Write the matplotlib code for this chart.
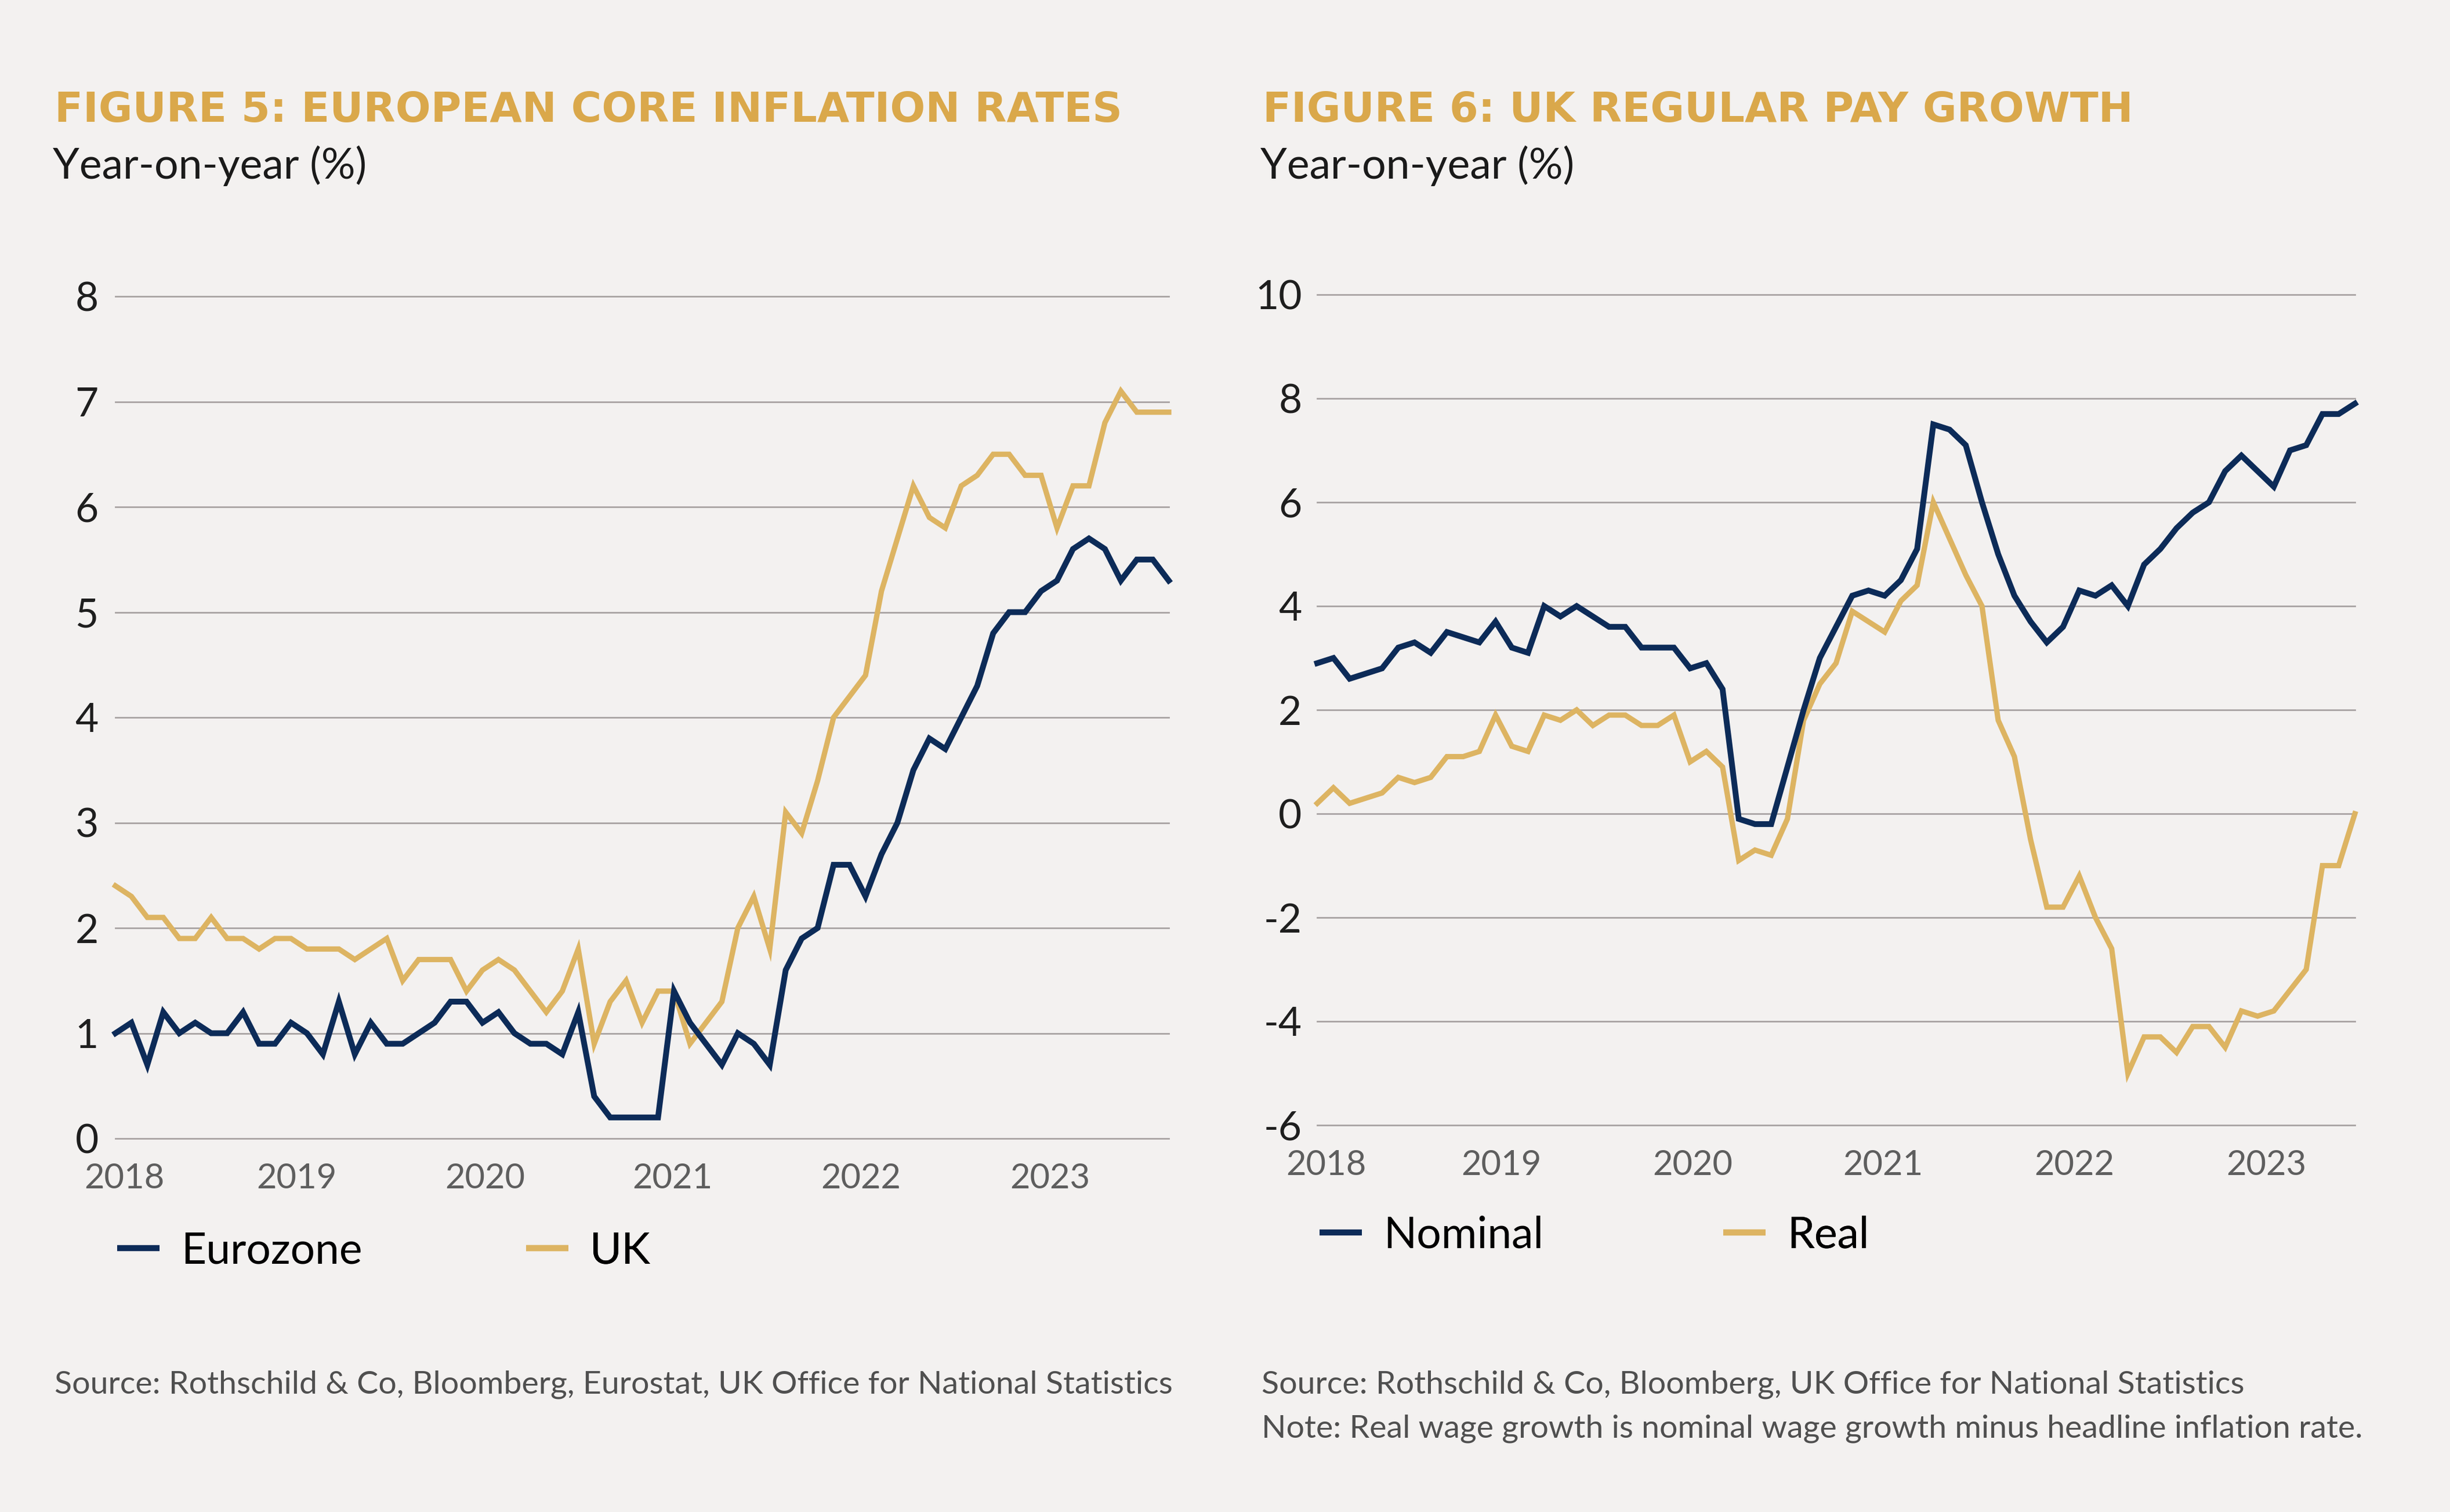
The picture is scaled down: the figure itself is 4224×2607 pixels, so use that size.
import numpy as np
import matplotlib.pyplot as plt
from matplotlib.lines import Line2D

# Figure 5: core inflation, monthly from Feb 2018 to Aug 2023 (% y/y)
eurozone = [1.0, 1.1, 0.7, 1.2, 1.0, 1.1, 1.0, 1.0, 1.2, 0.9, 0.9, 1.1,
            1.0, 0.8, 1.3, 0.8, 1.1, 0.9, 0.9, 1.0, 1.1, 1.3, 1.3, 1.1,
            1.2, 1.0, 0.9, 0.9, 0.8, 1.2, 0.4, 0.2, 0.2, 0.2, 0.2,
            1.4, 1.1, 0.9, 0.7, 1.0, 0.9, 0.7, 1.6, 1.9, 2.0, 2.6, 2.6,
            2.3, 2.7, 3.0, 3.5, 3.8, 3.7, 4.0, 4.3, 4.8, 5.0, 5.0, 5.2,
            5.3, 5.6, 5.7, 5.6, 5.3, 5.5, 5.5, 5.3]
uk_core = [2.4, 2.3, 2.1, 2.1, 1.9, 1.9, 2.1, 1.9, 1.9, 1.8, 1.9, 1.9,
           1.8, 1.8, 1.8, 1.7, 1.8, 1.9, 1.5, 1.7, 1.7, 1.7, 1.4, 1.6,
           1.7, 1.6, 1.4, 1.2, 1.4, 1.8, 0.9, 1.3, 1.5, 1.1, 1.4,
           1.4, 0.9, 1.1, 1.3, 2.0, 2.3, 1.8, 3.1, 2.9, 3.4, 4.0, 4.2,
           4.4, 5.2, 5.7, 6.2, 5.9, 5.8, 6.2, 6.3, 6.5, 6.5, 6.3, 6.3,
           5.8, 6.2, 6.2, 6.8, 7.1, 6.9, 6.9, 6.9]

# Figure 6: UK regular pay growth, monthly from Feb 2018 to Jun 2023 (% y/y)
nominal = [2.9, 3.0, 2.6, 2.7, 2.8, 3.2, 3.3, 3.1, 3.5, 3.4, 3.3, 3.7,
           3.2, 3.1, 4.0, 3.8, 4.0, 3.8, 3.6, 3.6, 3.2, 3.2, 3.2, 2.8,
           2.9, 2.4, -0.1, -0.2, -0.2, 0.9, 2.0, 3.0, 3.6, 4.2, 4.3,
           4.2, 4.5, 5.1, 7.5, 7.4, 7.1, 6.0, 5.0, 4.2, 3.7, 3.3, 3.6,
           4.3, 4.2, 4.4, 4.0, 4.8, 5.1, 5.5, 5.8, 6.0, 6.6, 6.9, 6.6,
           6.3, 7.0, 7.1, 7.7, 7.7, 7.9]
real = [0.2, 0.5, 0.2, 0.3, 0.4, 0.7, 0.6, 0.7, 1.1, 1.1, 1.2, 1.9,
        1.3, 1.2, 1.9, 1.8, 2.0, 1.7, 1.9, 1.9, 1.7, 1.7, 1.9, 1.0,
        1.2, 0.9, -0.9, -0.7, -0.8, -0.1, 1.8, 2.5, 2.9, 3.9, 3.7,
        3.5, 4.1, 4.4, 6.0, 5.3, 4.6, 4.0, 1.8, 1.1, -0.5, -1.8, -1.8,
        -1.2, -2.0, -2.6, -5.0, -4.3, -4.3, -4.6, -4.1, -4.1, -4.5, -3.8, -3.9,
        -3.8, -3.4, -3.0, -1.0, -1.0, 0.0]

year_labels = ['2018', '2019', '2020', '2021', '2022', '2023']
# where the year labels sit, in months from the first point
year_pos = [0.55, 11.35, 23.15, 34.9, 46.7, 58.55]

W, H, DPI = 4224, 2607, 100
bg = '#F3F1F0'
navy = '#0C2B58'
gold = '#DDB462'
title_gold = '#DAA84B'
grid_c = '#A8A3A3'

plt.rcParams['font.family'] = ['Lato', 'DejaVu Sans']
plt.rcParams['axes.unicode_minus'] = False

fig = plt.figure(figsize=(W / DPI, H / DPI), dpi=DPI, facecolor=bg)


def fx(px):
    return px / W


def fy(py):
    return 1 - py / H


def fit(t, width):
    # scale a text so it spans the given width in pixels
    w = t.get_window_extent(renderer=fig.canvas.get_renderer()).width
    t.set_fontsize(t.get_fontsize() * width / w)
    return t.get_fontsize()


def style(ax, ylim, yticks, ypad, n):
    ax.set_facecolor(bg)
    for s in ax.spines.values():
        s.set_visible(False)
    ax.set_xlim(0, n - 1)
    ax.set_ylim(*ylim)
    ax.set_yticks(yticks)
    ax.set_xticks(year_pos)
    ax.set_xticklabels(year_labels)
    ax.yaxis.grid(True, color=grid_c, lw=2)
    ax.set_axisbelow(True)
    for g in ax.get_ygridlines():
        g.set_clip_on(False)
    ax.tick_params(axis='y', length=0, pad=ypad, labelsize=50, labelcolor='#1E1E1E')
    ax.tick_params(axis='x', length=0, pad=30, labelsize=43, labelcolor='#5E5E5E')


def key(ax, color, label, x_px, y_px):
    h = Line2D([], [], color=color, lw=7.5, solid_capstyle='butt')
    leg = ax.legend([h], [label], loc='center left',
                    bbox_to_anchor=(fx(x_px), fy(y_px)), bbox_transform=fig.transFigure,
                    frameon=False, borderpad=0, borderaxespad=0,
                    handlelength=0.97, handletextpad=0.5, fontsize=54)
    ax.add_artist(leg)


# left panel
ax1 = fig.add_axes([fx(199), fy(1963), (2015 - 199) / W, (1963 - 511) / H])
style(ax1, (0, 8), range(0, 9), 21, len(eurozone))
x1 = np.arange(len(eurozone))
ax1.plot(x1, uk_core, color=gold, lw=6.6, solid_joinstyle='miter', clip_on=False)
ax1.plot(x1, eurozone, color=navy, lw=7.2, solid_joinstyle='miter', clip_on=False)
key(ax1, navy, 'Eurozone', 202, 2157)
key(ax1, gold, 'UK', 907, 2157)

# right panel
ax2 = fig.add_axes([fx(2271), fy(1940), (4060 - 2271) / W, (1940 - 508) / H])
style(ax2, (-6, 10), range(-6, 11, 2), 19, len(nominal))
x2 = np.arange(len(nominal))
ax2.plot(x2, real, color=gold, lw=6.6, solid_joinstyle='miter', clip_on=False)
ax2.plot(x2, nominal, color=navy, lw=7.2, solid_joinstyle='miter', clip_on=False)
key(ax2, navy, 'Nominal', 2275, 2130)
key(ax2, gold, 'Real', 2971, 2130)

# titles
t1 = fig.text(fx(94), fy(210), 'FIGURE 5: EUROPEAN CORE INFLATION RATES', color=title_gold,
              fontsize=54, fontweight='bold', family='DejaVu Sans', va='baseline')
size = fit(t1, 1838)
fig.text(fx(2177), fy(210), 'FIGURE 6: UK REGULAR PAY GROWTH', color=title_gold,
         fontsize=size, fontweight='bold', family='DejaVu Sans', va='baseline')

s1 = fig.text(fx(91), fy(308), 'Year-on-year (%)', color='#1A1A1A', fontsize=57,
              va='baseline')
size = fit(s1, 541)
fig.text(fx(2173), fy(308), 'Year-on-year (%)', color='#1A1A1A', fontsize=size,
         va='baseline')

# sources
note = fig.text(fx(2175), fy(2478),
                'Note: Real wage growth is nominal wage growth minus headline inflation rate.',
                color='#4F4F4F', fontsize=42, va='baseline')
size = min(fit(note, 1898), 42)
note.set_fontsize(size)
fig.text(fx(2175), fy(2402), 'Source: Rothschild & Co, Bloomberg, UK Office for National Statistics',
         color='#4F4F4F', fontsize=size, va='baseline')
fig.text(fx(94), fy(2403),
         'Source: Rothschild & Co, Bloomberg, Eurostat, UK Office for National Statistics',
         color='#4F4F4F', fontsize=size, va='baseline')

fig.savefig('out.png', dpi=DPI, facecolor=bg)
